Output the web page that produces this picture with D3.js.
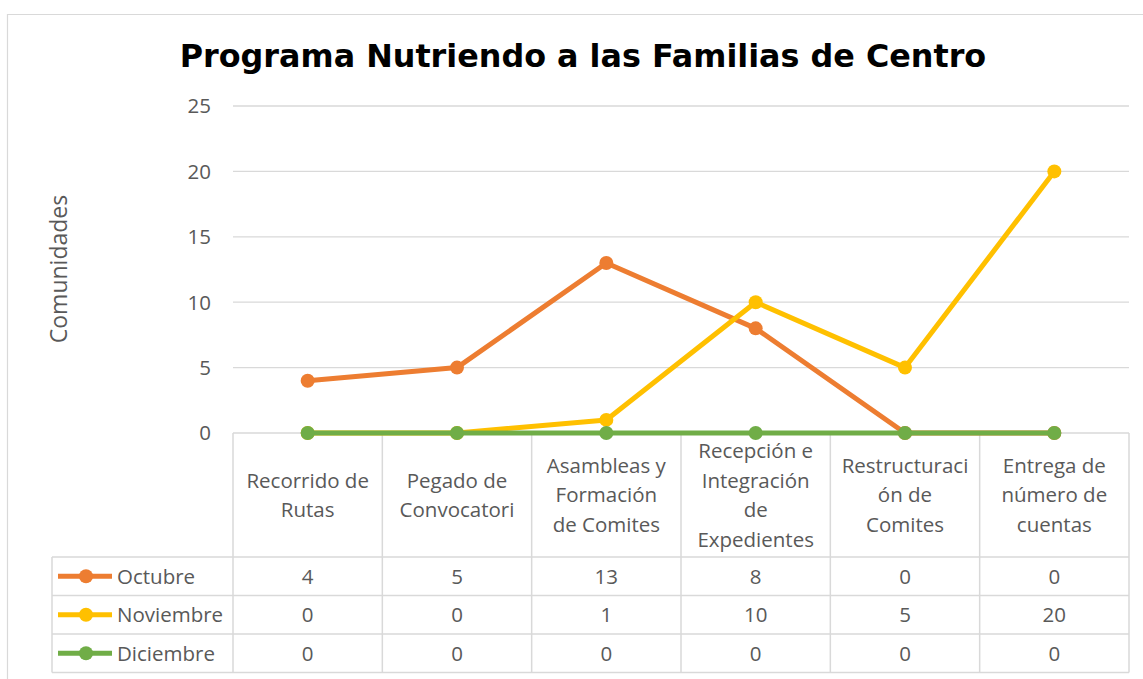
<!DOCTYPE html>
<html>
<head>
<meta charset="utf-8">
<script src="https://cdn.jsdelivr.net/npm/d3@7"></script>
<style>
  body { margin: 0; background: #fff; }
  text { font-family: "Open Sans", "Noto Sans", sans-serif; }
</style>
</head>
<body>
<svg id="chart" width="1143" height="679"></svg>
<script>
// chart data
var categories = [
  ["Recorrido de", "Rutas"],
  ["Pegado de", "Convocatori"],
  ["Asambleas y", "Formación", "de Comites"],
  ["Recepción e", "Integración", "de", "Expedientes"],
  ["Restructuraci", "ón de", "Comites"],
  ["Entrega de", "número de", "cuentas"]
];
var seriesNames = ["Octubre", "Noviembre", "Diciembre"];
var octubre = [4, 5, 13, 8, 0, 0];
var noviembre = [0, 0, 1, 10, 5, 20];
var diciembre = [0, 0, 0, 0, 0, 0];
var yTicks = [0, 5, 10, 15, 20, 25];
var colors = ["#ED7D31", "#FFC000", "#70AD47"];

var series = [octubre, noviembre, diciembre];

var svg = d3.select("#chart");
var gridColor = "#d9d9d9";
var textColor = "#595959";
var fs = "20.5px";

// chart border
svg.append("path")
    .attr("d", "M7.5,679 V14.5 H1143")
    .attr("fill", "none")
    .attr("stroke", gridColor)
    .attr("stroke-width", 1.2);

svg.append("text")
    .attr("x", 583)
    .attr("y", 67)
    .attr("text-anchor", "middle")
    .style("font-family", "'DejaVu Sans', sans-serif")
    .style("font-weight", "bold")
    .style("font-size", "31.8px")
    .attr("fill", "#000")
    .text("Programa Nutriendo a las Familias de Centro");

var left = 233, right = 1129;
var x = d3.scaleBand()
    .domain(d3.range(categories.length))
    .range([left, right]);
var y = d3.scaleLinear()
    .domain([0, 25])
    .range([433, 106]);

// gridlines
svg.append("g").selectAll("line")
    .data(yTicks.filter(function (d) { return d > 0; }))
    .enter().append("line")
    .attr("x1", left).attr("x2", right)
    .attr("y1", function (d) { return y(d); })
    .attr("y2", function (d) { return y(d); })
    .attr("stroke", gridColor)
    .attr("stroke-width", 1.3);

// y axis tick labels
svg.append("g").selectAll("text")
    .data(yTicks)
    .enter().append("text")
    .attr("x", 211)
    .attr("y", function (d) { return y(d); })
    .attr("dy", "0.36em")
    .attr("text-anchor", "end")
    .attr("fill", textColor)
    .style("font-size", fs)
    .text(function (d) { return d; });

svg.append("text")
    .attr("transform", "translate(67,269) rotate(-90)")
    .attr("text-anchor", "middle")
    .attr("fill", textColor)
    .style("font-size", "23px")
    .text("Comunidades");

// data table
var tableLeft = 52;
var headerBottom = 557;
var rowH = 38.5;
var tbl = svg.append("g");

// horizontal lines
tbl.append("line")
    .attr("x1", left).attr("x2", right)
    .attr("y1", y(0)).attr("y2", y(0))
    .attr("stroke", gridColor).attr("stroke-width", 1.5);
d3.range(seriesNames.length + 1).forEach(function (i) {
    tbl.append("line")
        .attr("x1", tableLeft).attr("x2", right)
        .attr("y1", headerBottom + i * rowH).attr("y2", headerBottom + i * rowH)
        .attr("stroke", gridColor).attr("stroke-width", 1.5);
});
// vertical lines
d3.range(categories.length + 1).forEach(function (i) {
    var xx = left + i * x.bandwidth();
    tbl.append("line")
        .attr("x1", xx).attr("x2", xx)
        .attr("y1", y(0)).attr("y2", headerBottom + seriesNames.length * rowH)
        .attr("stroke", gridColor).attr("stroke-width", 1.5);
});
tbl.append("line")
    .attr("x1", tableLeft).attr("x2", tableLeft)
    .attr("y1", headerBottom).attr("y2", headerBottom + seriesNames.length * rowH)
    .attr("stroke", gridColor).attr("stroke-width", 1.5);

// category headers
categories.forEach(function (lines, i) {
    var cx = x(i) + x.bandwidth() / 2;
    var lh = 29.5;
    var top = 495 - (lines.length - 1) * lh / 2;
    var t = tbl.append("text")
        .attr("text-anchor", "middle")
        .attr("fill", textColor)
        .style("font-size", fs);
    lines.forEach(function (s, j) {
        t.append("tspan")
            .attr("x", cx)
            .attr("y", top + j * lh)
            .attr("dy", "0.36em")
            .text(s);
    });
});

// rows
series.forEach(function (vals, r) {
    var cy = headerBottom + r * rowH + rowH / 2;
    tbl.append("line")
        .attr("x1", 58).attr("x2", 112)
        .attr("y1", cy).attr("y2", cy)
        .attr("stroke", colors[r]).attr("stroke-width", 5);
    tbl.append("circle")
        .attr("cx", 86).attr("cy", cy).attr("r", 7)
        .attr("fill", colors[r]);
    tbl.append("text")
        .attr("x", 117).attr("y", cy).attr("dy", "0.36em")
        .attr("fill", textColor)
        .style("font-size", fs)
        .text(seriesNames[r]);
    vals.forEach(function (v, i) {
        tbl.append("text")
            .attr("x", x(i) + x.bandwidth() / 2)
            .attr("y", cy).attr("dy", "0.36em")
            .attr("text-anchor", "middle")
            .attr("fill", textColor)
            .style("font-size", fs)
            .text(v);
    });
});

// lines and markers
var line = d3.line()
    .x(function (d, i) { return x(i) + x.bandwidth() / 2; })
    .y(function (d) { return y(d); });

series.forEach(function (vals, r) {
    var g = svg.append("g");
    g.append("path")
        .datum(vals)
        .attr("d", line)
        .attr("fill", "none")
        .attr("stroke", colors[r])
        .attr("stroke-width", 5)
        .attr("stroke-linejoin", "round")
        .attr("stroke-linecap", "round");
    g.selectAll("circle")
        .data(vals)
        .enter().append("circle")
        .attr("cx", function (d, i) { return x(i) + x.bandwidth() / 2; })
        .attr("cy", function (d) { return y(d); })
        .attr("r", 7)
        .attr("fill", colors[r]);
});
</script>
</body>
</html>
